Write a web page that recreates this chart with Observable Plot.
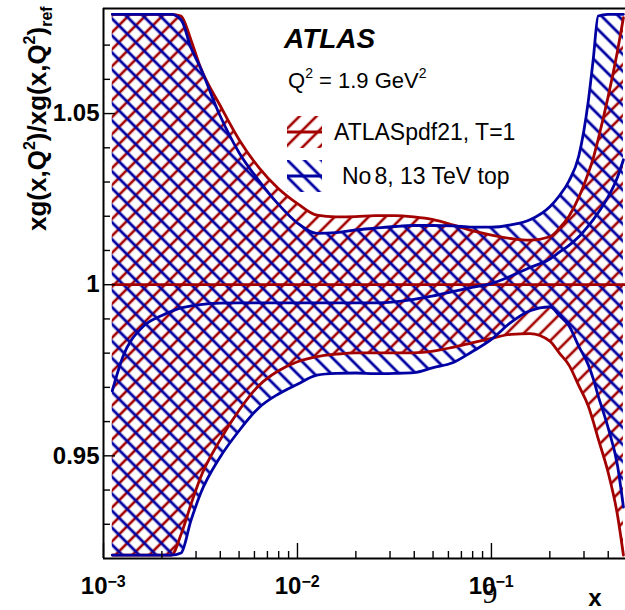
<!DOCTYPE html>
<html><head><meta charset="utf-8">
<script src="https://cdn.jsdelivr.net/npm/d3@7"></script>
<script src="https://cdn.jsdelivr.net/npm/@observablehq/plot@0.6"></script>
<style>html,body{margin:0;padding:0;background:#fff}svg{display:block}</style>
</head><body><div id="chart"></div>
<script>
// x values (log scale)
const xs = [0.00111, 0.00126, 0.00158, 0.00200, 0.00224, 0.00251, 0.00282, 0.00316, 0.00398, 0.00501,
  0.00631, 0.00794, 0.0100, 0.0126, 0.0158, 0.0200, 0.0251, 0.0316, 0.0398, 0.0501,
  0.0631, 0.0794, 0.100, 0.126, 0.158, 0.200, 0.224, 0.251, 0.282, 0.316,
  0.335, 0.355, 0.398, 0.447, 0.479];
// ATLASpdf21, T=1 band (upper / lower)
const redUp = [1.079, 1.079, 1.079, 1.079, 1.079, 1.0785, 1.0716, 1.0635, 1.0525, 1.0423,
  1.0343, 1.0282, 1.0237, 1.0203, 1.0198, 1.0199, 1.0202, 1.0202, 1.0198, 1.019,
  1.0175, 1.0158, 1.0145, 1.0135, 1.013, 1.014, 1.0165, 1.020, 1.0255, 1.0327,
  1.037, 1.0425, 1.0545, 1.0684, 1.078];
const redLo = [0.921, 0.921, 0.921, 0.921, 0.921, 0.927, 0.9357, 0.9436, 0.9545, 0.9634,
  0.9705, 0.9748, 0.9775, 0.979, 0.9797, 0.9801, 0.9801, 0.9801, 0.9801, 0.9806,
  0.9817, 0.983, 0.9843, 0.9855, 0.9857, 0.9835, 0.980, 0.9765, 0.9705, 0.9645,
  0.960, 0.955, 0.9455, 0.9325, 0.921];
// No 8, 13 TeV top band (upper / lower / central)
const blueUp = [1.079, 1.079, 1.079, 1.079, 1.079, 1.0775, 1.0693, 1.0634, 1.0495, 1.0385,
  1.0305, 1.0236, 1.018, 1.015, 1.0152, 1.016, 1.0165, 1.017, 1.0173, 1.0173,
  1.0172, 1.0168, 1.0168, 1.0175, 1.019, 1.0228, 1.026, 1.0303, 1.0376, 1.0538,
  1.066, 1.0785, 1.079, 1.079, 1.079];
const blueLo = [0.921, 0.921, 0.921, 0.921, 0.921, 0.9216, 0.931, 0.9389, 0.9495, 0.9574,
  0.964, 0.968, 0.9709, 0.9736, 0.9741, 0.9742, 0.974, 0.9741, 0.9743, 0.9758,
  0.9772, 0.9804, 0.984, 0.989, 0.9924, 0.9935, 0.991, 0.988, 0.982, 0.9765,
  0.9725, 0.9675, 0.9585, 0.947, 0.935];
const blueMid = [0.969, 0.979, 0.9875, 0.991, 0.9922, 0.9932, 0.9938, 0.9942, 0.9946, 0.9947,
  0.9947, 0.9947, 0.9947, 0.9947, 0.9947, 0.9947, 0.9947, 0.995, 0.9957, 0.9967,
  0.998, 0.9992, 1.0003, 1.0025, 1.005, 1.0075, 1.0095, 1.0115, 1.014, 1.0172,
  1.019, 1.021, 1.0255, 1.0315, 1.0365];
const refValue = [1];

const xDomain = [0.001, 0.491];
const yDomain = [0.92, 1.0807];
const yMajor = [0.95, 1, 1.05];
const yMajorLabels = ["0.95", "1", "1.05"];
const yMinor = [0.93, 0.94, 0.96, 0.97, 0.98, 0.99, 1.01, 1.02, 1.03, 1.04, 1.06, 1.07];
const xMajor = [0.001, 0.01, 0.1];
const xMajorExp = ["\u22123", "\u22122", "\u22121"];
const xMinor = [0.002, 0.003, 0.004, 0.005, 0.006, 0.007, 0.008, 0.009,
  0.02, 0.03, 0.04, 0.05, 0.06, 0.07, 0.08, 0.09, 0.2, 0.3, 0.4];

const RED = "#a30000", BLUE = "#0000a3";
const FONT = "'Liberation Sans', Arial, Helvetica, sans-serif";
const W = 625, H = 610, mL = 103, mR = 0, mT = 8, mB = 52;
const pw = W - mL - mR, ph = H - mT - mB;
const LW = 2.8;

const rows = xs.map((x, i) => ({x, ru: redUp[i], rl: redLo[i], bu: blueUp[i], bl: blueLo[i], bm: blueMid[i]}));
const curve = "monotone-x";

const chart = Plot.plot({
  width: W, height: H,
  marginLeft: mL, marginRight: mR, marginTop: mT, marginBottom: mB,
  style: {fontFamily: FONT, background: "#fff", overflow: "visible"},
  x: {type: "log", domain: xDomain, axis: null},
  y: {domain: yDomain, axis: null},
  marks: [
    Plot.areaY(rows, {x: "x", y1: "rl", y2: "ru", fill: "url(#hatchRed)", curve}),
    Plot.areaY(rows, {x: "x", y1: "bl", y2: "bu", fill: "url(#hatchBlue)", curve}),
    Plot.ruleY(refValue, {y: d => d, x1: xs[0], x2: xDomain[1], stroke: RED, strokeWidth: LW}),
    Plot.line(rows, {x: "x", y: "ru", stroke: RED, strokeWidth: LW, curve}),
    Plot.line(rows, {x: "x", y: "rl", stroke: RED, strokeWidth: LW, curve}),
    Plot.line(rows, {x: "x", y: "bu", stroke: BLUE, strokeWidth: LW, curve}),
    Plot.line(rows, {x: "x", y: "bl", stroke: BLUE, strokeWidth: LW, curve}),
    Plot.line(rows, {x: "x", y: "bm", stroke: BLUE, strokeWidth: LW, curve}),
    // frame / axes lines
    Plot.ruleY([yDomain[0]], {y: d => d, stroke: "#000", strokeWidth: 2}),
    Plot.ruleY([yDomain[1]], {y: d => d, stroke: "#000", strokeWidth: 2}),
    Plot.ruleX([xDomain[0]], {x: d => d, stroke: "#000", strokeWidth: 2}),
    // inward ticks
    Plot.tickY(yMajor, {y: d => d, insetRight: pw - 12, stroke: "#000", strokeWidth: 1.4}),
    Plot.tickY(yMinor, {y: d => d, insetRight: pw - 7, stroke: "#000", strokeWidth: 1.4}),
    Plot.tickX(xMajor, {x: d => d, insetTop: ph - 15, stroke: "#000", strokeWidth: 1.4}),
    Plot.tickX(xMinor, {x: d => d, insetTop: ph - 7, stroke: "#000", strokeWidth: 1.4}),
    // tick labels
    Plot.text(yMajor, {y: d => d, text: (d, i) => yMajorLabels[i], frameAnchor: "left", textAnchor: "end",
      dx: -4, fontSize: 24, fontWeight: "bold", fill: "#000"}),
    Plot.text(xMajor, {x: d => d, text: () => "10", frameAnchor: "bottom", textAnchor: "end",
      lineAnchor: "bottom", dx: 4, dy: 35, fontSize: 24, fontWeight: "bold", fill: "#000"}),
    Plot.text(xMajor, {x: d => d, text: (d, i) => xMajorExp[i], frameAnchor: "bottom", textAnchor: "start",
      lineAnchor: "bottom", dx: 4, dy: 28, fontSize: 16, fontWeight: "bold", fill: "#000"})
  ]
});
document.getElementById("chart").appendChild(chart);

const svg = d3.select(chart);
const defs = svg.insert("defs", ":first-child");
function hatch(id, color, angle, sw) {
  const p = defs.append("pattern").attr("id", id).attr("patternUnits", "userSpaceOnUse")
    .attr("width", 12).attr("height", 12).attr("patternTransform", `rotate(${angle})`);
  p.append("line").attr("x1", 6).attr("y1", -2).attr("x2", 6).attr("y2", 14)
    .attr("stroke", color).attr("stroke-width", sw);
}
hatch("hatchRed", RED, 45, 2.6);
hatch("hatchBlue", BLUE, -45, 2.8);

const ann = svg.append("g").attr("text-anchor", "start").attr("font-family", FONT).attr("fill", "#000");

// y-axis title
const yl = ann.append("text").attr("transform", "translate(46,231) rotate(-90)")
  .attr("font-size", 26).attr("font-weight", "bold");
yl.append("tspan").text("xg(x,Q");
yl.append("tspan").attr("font-size", 16).attr("dy", -11).text("2");
yl.append("tspan").attr("dy", 11).text(")/xg(x,Q");
yl.append("tspan").attr("font-size", 16).attr("dy", -11).text("2");
yl.append("tspan").attr("dy", 11).text(")");
yl.append("tspan").attr("font-size", 16).attr("dy", 6).text("ref");

// x-axis title
ann.append("text").attr("x", 595).attr("y", 606).attr("text-anchor", "middle")
  .attr("font-size", 24).attr("font-weight", "bold").text("x");
ann.append("text").attr("x", 490).attr("y", 603).attr("text-anchor", "middle")
  .attr("font-family", "'Liberation Serif', serif").attr("font-size", 30).text("9");

// ATLAS label
ann.append("text").attr("x", 284).attr("y", 48).attr("font-size", 28)
  .attr("font-weight", "bold").attr("font-style", "italic").text("ATLAS");
const q = ann.append("text").attr("x", 288).attr("y", 88).attr("font-size", 22);
q.append("tspan").text("Q");
q.append("tspan").attr("font-size", 14).attr("dy", -10).text("2");
q.append("tspan").attr("dy", 10).text(" = 1.9 GeV");
q.append("tspan").attr("font-size", 14).attr("dy", -10).text("2");

// legend
const legend = [
  {label: "ATLASpdf21, T=1", fill: "url(#hatchRed)", color: RED, y: 116, tx: 334, ty: 140},
  {label: "8, 13 TeV top", pre: "No", fill: "url(#hatchBlue)", color: BLUE, y: 160, tx: 342, ty: 184}
];
legend.forEach(e => {
  ann.append("rect").attr("x", 287).attr("y", e.y).attr("width", 35).attr("height", 32).attr("fill", e.fill);
  ann.append("line").attr("x1", 287).attr("x2", 322).attr("y1", e.y + 16).attr("y2", e.y + 16)
    .attr("stroke", e.color).attr("stroke-width", LW);
  const t = ann.append("text").attr("x", e.tx).attr("y", e.ty).attr("font-size", 23);
  if (e.pre) { t.append("tspan").text(e.pre); t.append("tspan").attr("dx", 3).text(e.label); }
  else t.text(e.label);
});
</script>
</body></html>
